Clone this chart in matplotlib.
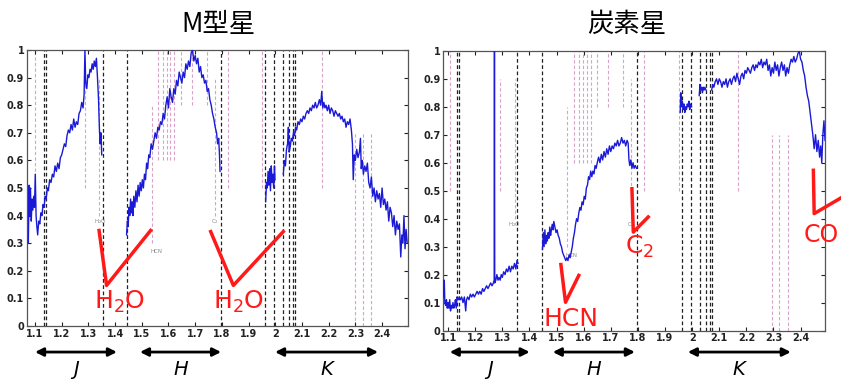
import matplotlib.pyplot as plt
import matplotlib.transforms as mtransforms

# ---- M-type star spectrum (segments between telluric gaps) ----
m_j_x = [1.075, 1.078, 1.080, 1.083, 1.086, 1.089, 1.092, 1.095, 1.098, 1.101, 1.104, 1.107,
         1.110, 1.114, 1.118, 1.122, 1.126, 1.130, 1.134, 1.138, 1.142, 1.146, 1.150, 1.155,
         1.160, 1.165, 1.170, 1.175, 1.180, 1.185, 1.190, 1.195, 1.200, 1.205, 1.210, 1.215,
         1.220, 1.225, 1.230, 1.235, 1.240, 1.245, 1.250, 1.255, 1.260, 1.265, 1.270, 1.275,
         1.280, 1.284, 1.287, 1.290, 1.294, 1.298, 1.302, 1.306, 1.310, 1.314, 1.318, 1.322,
         1.326, 1.330, 1.334, 1.338, 1.341, 1.344, 1.347, 1.350]
m_j_y = [0.30, 0.51, 0.40, 0.50, 0.38, 0.46, 0.42, 0.47, 0.43, 0.55, 0.40, 0.36,
         0.33, 0.38, 0.37, 0.41, 0.40, 0.44, 0.43, 0.47, 0.46, 0.50, 0.49, 0.53,
         0.52, 0.55, 0.54, 0.58, 0.56, 0.59, 0.57, 0.61, 0.62, 0.64, 0.66, 0.65,
         0.69, 0.71, 0.70, 0.73, 0.71, 0.75, 0.72, 0.74, 0.73, 0.77, 0.78, 0.81,
         0.79, 0.84, 1.00, 0.88, 0.86, 0.91, 0.90, 0.93, 0.92, 0.95, 0.93, 0.96,
         0.94, 0.97, 0.90, 0.82, 0.72, 0.66, 0.70, 0.62]

m_h_x = [1.443, 1.446, 1.449, 1.452, 1.455, 1.458, 1.461, 1.464, 1.467, 1.470, 1.474, 1.478,
         1.482, 1.486, 1.490, 1.494, 1.498, 1.502, 1.506, 1.510, 1.514, 1.518, 1.522, 1.526,
         1.530, 1.535, 1.540, 1.545, 1.550, 1.555, 1.560, 1.565, 1.570, 1.575, 1.580, 1.585,
         1.590, 1.595, 1.600, 1.605, 1.610, 1.615, 1.620, 1.625, 1.630, 1.635, 1.640, 1.645,
         1.650, 1.655, 1.660, 1.665, 1.670, 1.675, 1.680, 1.685, 1.690, 1.695, 1.700, 1.705,
         1.710, 1.715, 1.720, 1.725, 1.730, 1.735, 1.740, 1.745, 1.750, 1.755, 1.760, 1.765,
         1.770, 1.775, 1.780, 1.784, 1.788, 1.791, 1.793]
m_h_y = [0.33, 0.38, 0.36, 0.43, 0.40, 0.46, 0.41, 0.45, 0.40, 0.47, 0.43, 0.49,
         0.45, 0.51, 0.47, 0.52, 0.49, 0.53, 0.50, 0.55, 0.53, 0.59, 0.57, 0.62,
         0.61, 0.66, 0.64, 0.67, 0.70, 0.68, 0.72, 0.71, 0.74, 0.73, 0.77, 0.75,
         0.80, 0.83, 0.79, 0.86, 0.83, 0.81, 0.86, 0.84, 0.89, 0.87, 0.92, 0.90,
         0.88, 0.92, 0.90, 0.95, 0.93, 0.96, 0.94, 0.99, 1.00, 0.96, 0.98, 0.95,
         0.97, 0.92, 0.94, 0.90, 0.91, 0.88, 0.89, 0.85, 0.86, 0.82, 0.80, 0.77,
         0.75, 0.72, 0.70, 0.66, 0.68, 0.62, 0.56]

m_gap_x = [1.964, 1.967, 1.970, 1.973, 1.976, 1.979, 1.982, 1.985, 1.988, 1.991, 1.994, 1.997, 1.999]
m_gap_y = [0.45, 0.52, 0.50, 0.56, 0.51, 0.57, 0.49, 0.58, 0.52, 0.55, 0.50, 0.58, 0.53]

m_k_x = [2.030, 2.034, 2.038, 2.042, 2.046, 2.049, 2.052, 2.056, 2.060, 2.064, 2.068, 2.072,
         2.076, 2.080, 2.085, 2.090, 2.095, 2.100, 2.105, 2.110, 2.115, 2.120, 2.125, 2.130,
         2.135, 2.140, 2.145, 2.150, 2.155, 2.160, 2.165, 2.170, 2.174, 2.178, 2.182, 2.186,
         2.190, 2.195, 2.200, 2.205, 2.210, 2.215, 2.220, 2.225, 2.230, 2.235, 2.240, 2.245,
         2.250, 2.255, 2.260, 2.265, 2.270, 2.275, 2.280, 2.285, 2.289, 2.292, 2.296, 2.300,
         2.305, 2.310, 2.315, 2.319, 2.322, 2.326, 2.330, 2.335, 2.340, 2.345, 2.350, 2.355,
         2.360, 2.365, 2.370, 2.375, 2.380, 2.385, 2.390, 2.395, 2.400, 2.405, 2.410, 2.415,
         2.420, 2.425, 2.430, 2.435, 2.440, 2.445, 2.450, 2.455, 2.460, 2.465, 2.470, 2.474,
         2.478, 2.482, 2.486, 2.490, 2.494]
m_k_y = [0.55, 0.60, 0.58, 0.64, 0.66, 0.72, 0.63, 0.65, 0.68, 0.67, 0.70, 0.69,
         0.72, 0.71, 0.74, 0.73, 0.75, 0.74, 0.76, 0.75, 0.77, 0.78, 0.77, 0.79,
         0.78, 0.80, 0.79, 0.81, 0.79, 0.80, 0.82, 0.80, 0.85, 0.79, 0.81, 0.79,
         0.80, 0.78, 0.80, 0.77, 0.79, 0.78, 0.76, 0.78, 0.77, 0.76, 0.77, 0.75,
         0.76, 0.74, 0.75, 0.72, 0.74, 0.73, 0.75, 0.71, 0.66, 0.53, 0.62, 0.60,
         0.64, 0.61, 0.63, 0.68, 0.57, 0.60, 0.55, 0.58, 0.56, 0.59, 0.52, 0.50,
         0.54, 0.47, 0.50, 0.45, 0.49, 0.46, 0.48, 0.43, 0.50, 0.44, 0.46, 0.42,
         0.45, 0.38, 0.43, 0.41, 0.36, 0.40, 0.33, 0.38, 0.35, 0.37, 0.25, 0.33,
         0.30, 0.40, 0.28, 0.35, 0.30]

# ---- carbon star spectrum ----
c_j_x = [1.084, 1.086, 1.088, 1.091, 1.094, 1.097, 1.100, 1.103, 1.106, 1.109, 1.112, 1.115,
         1.118, 1.121, 1.124, 1.127, 1.130, 1.133, 1.137, 1.141, 1.145, 1.150, 1.155, 1.160,
         1.165, 1.168, 1.172, 1.177, 1.182, 1.187, 1.192, 1.197, 1.202, 1.207, 1.212, 1.217,
         1.222, 1.227, 1.232, 1.237, 1.242, 1.247, 1.252, 1.257, 1.262, 1.267, 1.270, 1.271,
         1.272, 1.276, 1.280, 1.284, 1.288, 1.292, 1.296, 1.300, 1.305, 1.310, 1.315, 1.320,
         1.325, 1.330, 1.335, 1.340, 1.345, 1.350, 1.354, 1.358]
c_j_y = [0.12, 0.18, 0.10, 0.09, 0.11, 0.08, 0.10, 0.08, 0.11, 0.07, 0.09, 0.08,
         0.10, 0.08, 0.09, 0.11, 0.08, 0.12, 0.11, 0.12, 0.11, 0.12, 0.10, 0.12,
         0.07, 0.11, 0.12, 0.11, 0.13, 0.12, 0.13, 0.12, 0.13, 0.14, 0.13, 0.14,
         0.13, 0.15, 0.14, 0.15, 0.16, 0.15, 0.16, 0.17, 0.16, 0.17, 0.18, 1.05,
         0.17, 0.18, 0.20, 0.18, 0.19, 0.18, 0.20, 0.19, 0.21, 0.20, 0.22, 0.21,
         0.23, 0.21, 0.23, 0.22, 0.24, 0.22, 0.25, 0.24]

c_h_x = [1.448, 1.451, 1.454, 1.457, 1.460, 1.463, 1.466, 1.469, 1.472, 1.475, 1.478, 1.481,
         1.484, 1.487, 1.490, 1.494, 1.498, 1.502, 1.506, 1.510, 1.514, 1.518, 1.522, 1.526,
         1.530, 1.534, 1.538, 1.542, 1.546, 1.550, 1.554, 1.558, 1.562, 1.566, 1.570, 1.574,
         1.578, 1.582, 1.586, 1.590, 1.594, 1.598, 1.602, 1.606, 1.610, 1.614, 1.618, 1.622,
         1.626, 1.630, 1.634, 1.638, 1.642, 1.646, 1.650, 1.655, 1.660, 1.665, 1.670, 1.675,
         1.680, 1.685, 1.690, 1.695, 1.700, 1.705, 1.710, 1.715, 1.720, 1.725, 1.730, 1.735,
         1.740, 1.745, 1.750, 1.755, 1.760, 1.764, 1.767, 1.770, 1.774, 1.778, 1.782, 1.786,
         1.790, 1.795]
c_h_y = [0.29, 0.35, 0.30, 0.36, 0.31, 0.34, 0.32, 0.35, 0.33, 0.37, 0.34, 0.36,
         0.38, 0.36, 0.39, 0.37, 0.35, 0.36, 0.34, 0.33, 0.31, 0.30, 0.28, 0.27,
         0.26, 0.25, 0.26, 0.25, 0.27, 0.26, 0.28, 0.30, 0.33, 0.35, 0.38, 0.40,
         0.39, 0.42, 0.44, 0.43, 0.46, 0.45, 0.48, 0.47, 0.51, 0.52, 0.55, 0.54,
         0.57, 0.55, 0.57, 0.56, 0.59, 0.58, 0.60, 0.62, 0.60, 0.63, 0.61, 0.64,
         0.62, 0.65, 0.63, 0.66, 0.64, 0.66, 0.65, 0.67, 0.66, 0.68, 0.66, 0.67,
         0.69, 0.67, 0.68, 0.66, 0.68, 0.67, 0.61, 0.59, 0.61, 0.58, 0.60, 0.58,
         0.59, 0.58]

c_gap_x = [1.956, 1.958, 1.961, 1.964, 1.967, 1.970, 1.973, 1.976, 1.979, 1.982, 1.985, 1.988,
           1.991, 1.994, 1.998]
c_gap_y = [0.78, 0.85, 0.80, 0.82, 0.79, 0.81, 0.78, 0.80, 0.79, 0.81, 0.80, 0.82,
           0.79, 0.81, 0.80]

c_gap2_x = [2.026, 2.029, 2.032, 2.035, 2.038, 2.041, 2.044, 2.047, 2.051]
c_gap2_y = [0.84, 0.88, 0.86, 0.87, 0.85, 0.87, 0.86, 0.87, 0.86]

c_k_x = [2.072, 2.076, 2.080, 2.085, 2.090, 2.095, 2.100, 2.105, 2.110, 2.115, 2.120, 2.125,
         2.130, 2.135, 2.140, 2.145, 2.150, 2.155, 2.160, 2.165, 2.170, 2.175, 2.180, 2.185,
         2.190, 2.195, 2.200, 2.205, 2.210, 2.215, 2.220, 2.225, 2.230, 2.235, 2.240, 2.245,
         2.250, 2.255, 2.260, 2.265, 2.270, 2.275, 2.280, 2.285, 2.290, 2.295, 2.300, 2.305,
         2.310, 2.315, 2.320, 2.325, 2.330, 2.335, 2.340, 2.345, 2.350, 2.355, 2.360, 2.365,
         2.370, 2.375, 2.380, 2.385, 2.390, 2.395, 2.400, 2.405, 2.410, 2.415, 2.420, 2.425,
         2.430, 2.435, 2.440, 2.445, 2.450, 2.455, 2.460, 2.465, 2.470, 2.474, 2.478, 2.482,
         2.486, 2.490]
c_k_y = [0.86, 0.88, 0.87, 0.89, 0.90, 0.88, 0.90, 0.89, 0.87, 0.89, 0.88, 0.90,
         0.87, 0.89, 0.90, 0.88, 0.90, 0.91, 0.89, 0.92, 0.90, 0.88, 0.91, 0.92,
         0.90, 0.93, 0.92, 0.94, 0.93, 0.92, 0.94, 0.95, 0.93, 0.95, 0.94, 0.96,
         0.95, 0.97, 0.94, 0.96, 0.95, 0.97, 0.93, 0.95, 0.91, 0.94, 0.92, 0.96,
         0.93, 0.95, 0.91, 0.94, 0.96, 0.93, 0.95, 0.91, 0.94, 0.92, 0.95, 0.97,
         0.96, 0.98, 0.96, 0.97, 0.99, 1.00, 0.97, 0.96, 0.93, 0.91, 0.87, 0.84,
         0.82, 0.78, 0.74, 0.70, 0.65, 0.70, 0.64, 0.68, 0.62, 0.66, 0.60, 0.70,
         0.75, 0.68]

# ---- line markers ----
black_lines = [1.133, 1.141, 1.355, 1.446, 1.795, 1.963, 1.997, 2.029, 2.051, 2.066, 2.075]

m_pink_x = [1.100, 1.287, 1.340, 1.537, 1.562, 1.581, 1.593, 1.606, 1.621, 1.647, 1.687,
            1.743, 1.774, 1.824, 1.951, 2.174, 2.300, 2.327, 2.357]
c_pink_x = [1.106, 1.293, 1.346, 1.537, 1.564, 1.583, 1.598, 1.613, 1.628, 1.648, 1.688,
            1.744, 1.774, 1.822, 1.950, 2.170, 2.293, 2.322, 2.353]
pink_lo = [0.5, 0.5, 0.4, 0.3, 0.6, 0.6, 0.6, 0.6, 0.6, 0.8, 0.8, 0.8, 0.4, 0.5, 0.5, 0.5, 0.0, 0.0, 0.0]
pink_hi = [1.0, 0.9, 0.9, 0.8, 1.0, 1.0, 1.0, 1.0, 1.0, 1.0, 1.0, 1.0, 0.9, 1.0, 1.0, 1.0, 0.7, 0.7, 0.7]

small_labels = ['H$_2$O', 'HCN', 'C$_2$']
small_x = [1.345, 1.555, 1.775]
small_y = [0.38, 0.27, 0.38]

bands = ['J', 'H', 'K']
m_band_lo = [1.10, 1.493, 1.999]
m_band_hi = [1.407, 1.797, 2.385]
c_band_lo = [1.106, 1.486, 1.984]
c_band_hi = [1.401, 1.789, 2.364]

BLUE = '#1a1ad6'
PINK = '#d9a3c9'
RED = '#ff1a1a'

fig = plt.figure(figsize=(8.41, 3.81), dpi=100)
ax1 = fig.add_axes([0.0321, 0.1444, 0.453, 0.7244])
ax2 = fig.add_axes([0.527, 0.1325, 0.454, 0.734])


def setup_axis(ax, xlim):
    ax.set_xlim(*xlim)
    ax.set_ylim(0, 1)
    ax.set_xticks([1.1, 1.2, 1.3, 1.4, 1.5, 1.6, 1.7, 1.8, 1.9, 2.0, 2.1, 2.2, 2.3, 2.4])
    ax.set_xticklabels(['1.1', '1.2', '1.3', '1.4', '1.5', '1.6', '1.7', '1.8', '1.9', '2',
                        '2.1', '2.2', '2.3', '2.4'])
    ax.set_yticks([0, 0.1, 0.2, 0.3, 0.4, 0.5, 0.6, 0.7, 0.8, 0.9, 1])
    ax.set_yticklabels(['0', '0.1', '0.2', '0.3', '0.4', '0.5', '0.6', '0.7', '0.8', '0.9', '1'])
    ax.tick_params(direction='in', top=True, right=True, length=3, width=0.8,
                   labelsize=7, pad=2, colors='#222222')
    for lab in ax.get_xticklabels() + ax.get_yticklabels():
        lab.set_fontweight('bold')
    for sp in ax.spines.values():
        sp.set_color('#555555')
        sp.set_linewidth(0.9)


def draw_markers(ax, pink_x):
    for x in black_lines:
        ax.axvline(x, color='#222222', lw=0.9, ls=(0, (3, 2)), zorder=1)
    for x, lo, hi in zip(pink_x, pink_lo, pink_hi):
        ax.plot([x, x], [lo, hi], color=PINK, lw=0.8, ls=(0, (3, 2)), zorder=1)
    for t, x, y in zip(small_labels, small_x, small_y):
        ax.text(x, y, t, fontsize=4, color='#888888', ha='center', va='center')


def draw_bands(ax, lo, hi):
    tr = mtransforms.blended_transform_factory(ax.transData, fig.transFigure)
    for b, a, c in zip(bands, lo, hi):
        ax.annotate('', xy=(c, 0.076), xytext=(a, 0.076), xycoords=tr, textcoords=tr,
                    arrowprops=dict(arrowstyle='<|-|>', color='k', lw=2, mutation_scale=12,
                                    shrinkA=0, shrinkB=0), annotation_clip=False)
        ax.text((a + c) / 2, 0.005, b, transform=tr, fontsize=14, style='italic',
                ha='center', va='bottom')


setup_axis(ax1, (1.07, 2.497))
setup_axis(ax2, (1.082, 2.49))
draw_markers(ax1, m_pink_x)
draw_markers(ax2, c_pink_x)

for xs, ys in [(m_j_x, m_j_y), (m_h_x, m_h_y), (m_gap_x, m_gap_y), (m_k_x, m_k_y)]:
    ax1.plot(xs, ys, color=BLUE, lw=1.0, zorder=3)
for xs, ys in [(c_j_x, c_j_y), (c_h_x, c_h_y), (c_gap_x, c_gap_y), (c_gap2_x, c_gap2_y),
               (c_k_x, c_k_y)]:
    ax2.plot(xs, ys, color=BLUE, lw=1.0, zorder=3)

# red annotations
ax1.plot([1.340, 1.368, 1.533], [0.346, 0.147, 0.346], color=RED, lw=2.5, zorder=4)
ax1.plot([1.758, 1.843, 2.030], [0.342, 0.147, 0.342], color=RED, lw=2.5, zorder=4)
ax1.text(1.418, 0.087, 'H$_2$O', color=RED, fontsize=18, ha='center', va='center', zorder=5)
ax1.text(1.861, 0.087, 'H$_2$O', color=RED, fontsize=18, ha='center', va='center', zorder=5)

ax2.plot([1.516, 1.533, 1.582], [0.236, 0.101, 0.197], color=RED, lw=2.5, zorder=4)
ax2.text(1.555, 0.042, 'HCN', color=RED, fontsize=18, ha='center', va='center', zorder=5)
ax2.plot([1.778, 1.783, 1.838], [0.507, 0.352, 0.406], color=RED, lw=2.5, zorder=4)
ax2.text(1.807, 0.30, 'C$_2$', color=RED, fontsize=18, ha='center', va='center', zorder=5)
ax2.plot([2.447, 2.450, 2.55], [0.573, 0.418, 0.475], color=RED, lw=2.5, zorder=4, clip_on=False)
ax2.text(2.412, 0.34, 'CO', color=RED, fontsize=17, ha='left', va='center', zorder=5, clip_on=False)

draw_bands(ax1, m_band_lo, m_band_hi)
draw_bands(ax2, c_band_lo, c_band_hi)

fig.text(0.26, 0.937, 'M型星', fontsize=19, ha='center', va='center',
         family=['Noto Sans CJK JP', 'DejaVu Sans'])
fig.text(0.745, 0.937, '炭素星', fontsize=19, ha='center', va='center',
         family=['Noto Sans CJK JP', 'DejaVu Sans'])

fig.savefig('out.png', dpi=100)
